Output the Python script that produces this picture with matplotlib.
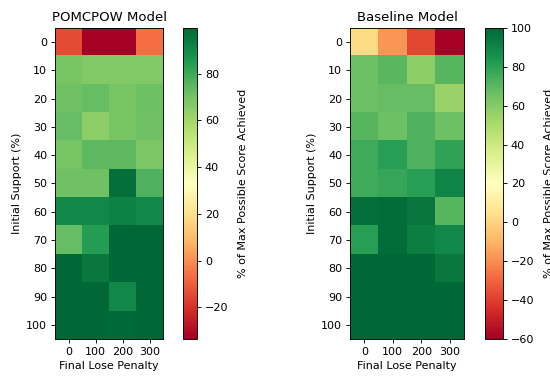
import numpy as np
import matplotlib
matplotlib.use("Agg")
import matplotlib.pyplot as plt

plt.rcParams["font.size"] = 11.1
plt.rcParams["axes.linewidth"] = 0.9
plt.rcParams["axes.labelpad"] = 4.4
for axis in ("xtick", "ytick"):
    plt.rcParams[axis + ".major.size"] = 3.9
    plt.rcParams[axis + ".major.width"] = 0.9
    plt.rcParams[axis + ".major.pad"] = 3.9

# Axes labels
support_levels = [0, 10, 20, 30, 40, 50, 60, 70, 80, 90, 100]
lose_penalties = [0, 100, 200, 300]

# % of max possible score, rows = initial support, cols = final lose penalty
pomcpow_scores = [
    [-14.0, -33.5, -33.5, -7.0],
    [69.0, 67.0, 67.0, 67.0],
    [70.5, 73.0, 69.0, 71.0],
    [73.0, 65.0, 69.0, 70.5],
    [69.0, 74.5, 74.5, 68.0],
    [70.5, 70.5, 97.0, 77.0],
    [90.5, 90.5, 92.0, 90.5],
    [73.0, 84.0, 99.5, 99.5],
    [99.5, 94.5, 99.5, 99.5],
    [99.5, 99.5, 90.5, 99.5],
    [99.5, 99.5, 98.5, 99.5],
]

baseline_scores = [
    [3.0, -18.0, -38.0, -60.0],
    [66.0, 70.0, 58.0, 71.0],
    [66.0, 68.0, 68.0, 55.0],
    [71.0, 66.0, 73.0, 66.0],
    [76.0, 81.0, 73.0, 79.0],
    [76.0, 78.0, 81.0, 90.0],
    [97.0, 98.0, 95.0, 71.0],
    [81.0, 98.0, 92.0, 89.0],
    [100.0, 100.0, 100.0, 94.0],
    [100.0, 100.0, 100.0, 100.0],
    [100.0, 100.0, 100.0, 100.0],
]

W, H = 550, 377
fig = plt.figure(figsize=(W / 72, H / 72), dpi=72)


def box(x0, x1, y0, y1):
    return [x0 / W, 1 - y1 / H, (x1 - x0) / W, (y1 - y0) / H]


def heatmap(ax, cax, data, title):
    im = ax.imshow(np.array(data), cmap="RdYlGn", aspect="auto")
    ax.set_xticks(range(len(lose_penalties)))
    ax.set_xticklabels(lose_penalties)
    ax.set_yticks(range(len(support_levels)))
    ax.set_yticklabels(support_levels)
    ax.set_xlabel("Final Lose Penalty")
    ax.set_ylabel("Initial Support (%)")
    ax.set_title(title, fontsize=13.3, pad=6.7)
    cb = fig.colorbar(im, cax=cax)
    cb.set_label("% of Max Possible Score Achieved", labelpad=10)
    return im


ax1 = fig.add_axes(box(55, 163, 28, 339))
cax1 = fig.add_axes(box(183, 197, 28, 339))
heatmap(ax1, cax1, pomcpow_scores, "POMCPOW Model")

ax2 = fig.add_axes(box(350, 464, 28, 339))
cax2 = fig.add_axes(box(485, 503, 28, 339))
heatmap(ax2, cax2, baseline_scores, "Baseline Model")

fig.savefig("out.png", dpi=72)
